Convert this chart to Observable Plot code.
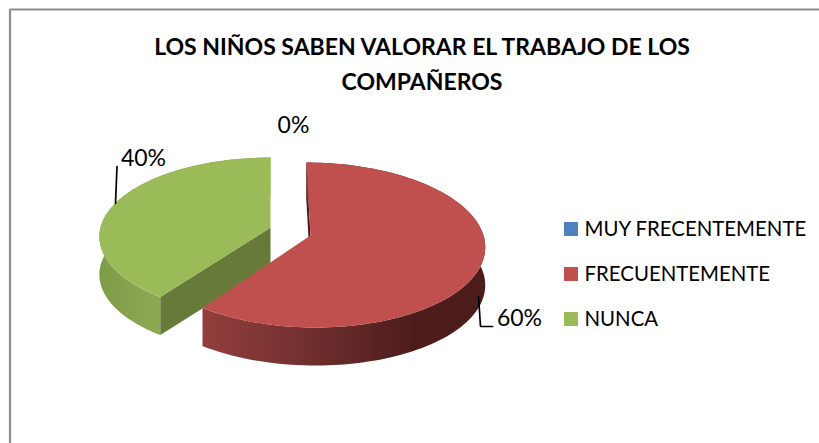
<!DOCTYPE html>
<html><head><meta charset="utf-8">
<script src="https://cdn.jsdelivr.net/npm/d3@7"></script>
<script src="https://cdn.jsdelivr.net/npm/@observablehq/plot@0.6"></script>
<style>html,body{margin:0;padding:0;background:#fff}svg{display:block}</style>
</head><body><div id="chart"></div>
<script>
const titleLines = ["LOS NIÑOS SABEN VALORAR EL TRABAJO DE LOS", "COMPAÑEROS"];
const categories = ["MUY FRECENTEMENTE", "FRECUENTEMENTE", "NUNCA"];
const values = [0, 60, 40];
const colors = ["#4f81bd", "#c0504d", "#9bbb59"];

const W = 819, H = 443;
const view = {vx: 270, persp: 0.115, depth: 38, steps: 120};
const solid = {
  "MUY FRECENTEMENTE": {dx: 20, ay: 227, R: 172, Hh: 81},
  "FRECUENTEMENTE": {dx: 40, ay: 235, R: 173, Hh: 81.4},
  "NUNCA": {dx: 0, ay: 227, R: 170, Hh: 78}
};
const labelPos = [{x: 293, y: 125}, {x: 519, y: 318}, {x: 143, y: 158}];
const leaders = [
  {k: "a", pts: [[115, 203], [116.5, 166]]},
  {k: "b", pts: [[478, 296], [480, 326], [492, 326]]}
];
const legendY = [229, 274, 319];
const frame = [[819, 9], [9.5, 9], [9.5, 443]];

// 3D pie geometry: each slice's rim is projected with one perspective
const total = d3.sum(values);
const arcs = d3.pie().sort(null).value((d, i) => values[i])(categories);
function project(cat, a) {
  const s = solid[cat], X = Math.sin(a), Y = Math.cos(a), k = 1 / (1 + view.persp * Y);
  return [view.vx + (s.dx + s.R * X) * k, s.ay - s.Hh * Y * k];
}
function rim(cat, a0, a1) {
  return d3.range(view.steps + 1).map(i => project(cat, a0 + (a1 - a0) * i / view.steps));
}
const tops = [], outer = [], inner = [];
arcs.forEach((arc, i) => {
  if (values[i] === 0) return;
  const cat = arc.data, s = solid[cat], apex = [view.vx + s.dx, s.ay];
  const r = rim(cat, arc.startAngle, arc.endAngle);
  [...r, apex].forEach(p => tops.push({cat, x: p[0], y: p[1]}));
  [...r, ...r.slice().reverse().map(p => [p[0], p[1] + view.depth])]
    .forEach(p => outer.push({cat, x: p[0], y: p[1]}));
  [arc.startAngle, arc.endAngle].forEach((a, j) => {
    const e = project(cat, a);
    [e, apex, [apex[0], apex[1] + view.depth], [e[0], e[1] + view.depth]]
      .forEach(p => inner.push({cat, z: cat + j, x: p[0], y: p[1]}));
  });
});
const wallFill = {FRECUENTEMENTE: "url(#wallRed)", NUNCA: "url(#wallGreen)"};
const innerFill = {FRECUENTEMENTE: "#4f1d1c", NUNCA: "#687a3a"};
const legendRows = categories.map((c, i) => ({c, y: legendY[i]}));
const dataLabels = categories.map((c, i) => ({
  t: Math.round(values[i] / total * 100) + "%", ...labelPos[i]
}));

function defs() {
  const d = d3.create("svg:defs");
  const grad = (id, x1, x2, stops) => {
    const g = d.append("linearGradient").attr("id", id).attr("gradientUnits", "userSpaceOnUse")
      .attr("x1", x1).attr("x2", x2).attr("y1", 0).attr("y2", 0);
    stops.forEach(([o, c]) => g.append("stop").attr("offset", o).attr("stop-color", c));
  };
  grad("wallRed", 203, 485, [[0, "#923e3b"], [0.35, "#733030"], [0.75, "#4c1c1b"], [1, "#4c1c1b"]]);
  grad("wallGreen", 100, 165, [[0, "#7f9c49"], [1, "#8eaa53"]]);
  return d.node();
}
const font = "Lato, Carlito, sans-serif";

const chart = Plot.plot({
  width: W, height: H, margin: 0,
  x: {domain: [0, W], range: [0, W], axis: null},
  y: {domain: [0, H], range: [0, H], axis: null},
  color: {domain: categories, range: colors},
  style: {background: "#fff", fontFamily: font},
  marks: [
    () => defs(),
    Plot.line(frame, {x: d => d[0], y: d => d[1], stroke: "#8c8c8c", strokeWidth: 2.2, strokeLinejoin: "miter"}),
    Plot.line(outer.filter(d => d.cat === "NUNCA"), {x: "x", y: "y", fill: wallFill.NUNCA, stroke: "none"}),
    Plot.line(inner.filter(d => d.z === "NUNCA0"), {x: "x", y: "y", fill: innerFill.NUNCA, stroke: "none"}),
    Plot.line(tops.filter(d => d.cat === "NUNCA"), {x: "x", y: "y", fill: "cat", stroke: "none"}),
    Plot.line(inner.filter(d => d.z === "FRECUENTEMENTE0"), {x: "x", y: "y", fill: innerFill.FRECUENTEMENTE, stroke: "none"}),
    Plot.line(outer.filter(d => d.cat === "FRECUENTEMENTE"), {x: "x", y: "y", fill: wallFill.FRECUENTEMENTE, stroke: "none"}),
    Plot.line(tops.filter(d => d.cat === "FRECUENTEMENTE"), {x: "x", y: "y", fill: "cat", stroke: "none"}),
    ...leaders.map(l => Plot.line(l.pts, {x: d => d[0], y: d => d[1], stroke: "#000", strokeWidth: 1.7, strokeLinejoin: "miter"})),
    Plot.text(titleLines, {x: 421.5, y: (d, i) => [47, 82][i], text: d => d, fontSize: 23, fontWeight: 700, fill: "#000", textAnchor: "middle", fontFamily: font}),
    Plot.text(dataLabels, {x: "x", y: "y", text: "t", fontSize: 23, fill: "#000", fontFamily: font}),
    Plot.rect(legendRows, {x1: 564, x2: 578, y1: d => d.y - 7, y2: d => d.y + 7, fill: "c"}),
    Plot.text(legendRows, {x: 584, y: "y", text: "c", fontSize: 20.4, fill: "#000", textAnchor: "start", fontFamily: font})
  ]
});
document.getElementById("chart").appendChild(chart);
</script></body></html>
